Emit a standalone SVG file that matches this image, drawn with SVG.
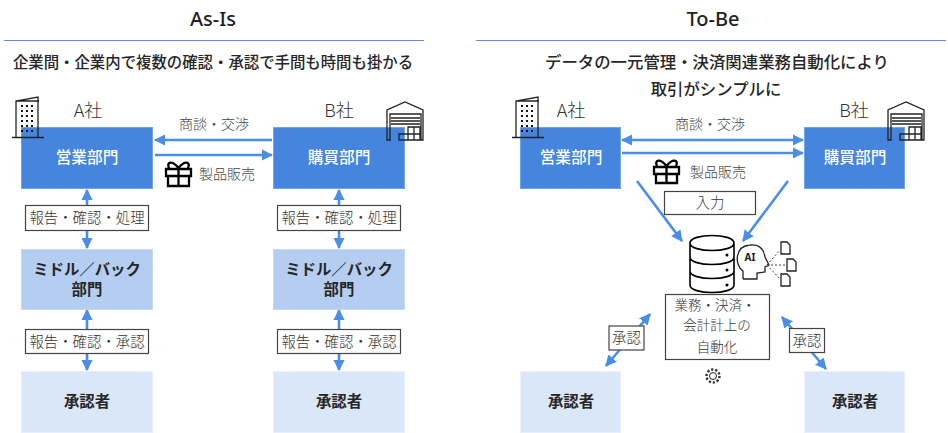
<svg xmlns="http://www.w3.org/2000/svg" width="948" height="433" viewBox="0 0 948 433">
<style>
text{font-family:"Noto Sans CJK JP","Noto Sans",sans-serif;text-anchor:middle}
.h{font-family:"Noto Sans","Noto Sans CJK JP",sans-serif;font-size:20px;font-weight:500;fill:#222}
.t{font-size:15.4px;font-weight:500;fill:#262626}
.t2{font-size:16.4px;font-weight:500;fill:#262626}
.co{font-size:18px;font-weight:300;fill:#333}
.l{font-size:14px;font-weight:300;fill:#444}
.w{font-size:15.700px;font-weight:500;fill:#fff}
.d{font-size:15.400px;font-weight:700;fill:#262626}
.s{font-size:14.400px;font-weight:300;fill:#333}
.s2{font-size:13.500px;font-weight:300;fill:#333}
.blue{fill:#4585dd;stroke:#6fa5ec;stroke-width:1}
.mid{fill:#b4cdf0;stroke:#c5d9f4;stroke-width:1}
.lt{fill:#dae7f8;stroke:#e6effb;stroke-width:1}
.box{fill:#fff;stroke:#444;stroke-width:1.2}
.ln{stroke:#4a8ee6;stroke-width:2.6;fill:none}
.ic{fill:none;stroke:#222;stroke-width:1.3}
.ick{fill:none;stroke:#000;stroke-width:2.300}
.rule{stroke:#5b8fd8;stroke-width:1}
</style>
<defs>
<marker id="a" viewBox="0 0 10 10" refX="9" refY="5" markerWidth="4.400" markerHeight="4.400" orient="auto-start-reverse"><path d="M0 0L10 5L0 10z" fill="#4a8ee6"/></marker>
</defs>
<g id="headers">
<text class="h" x="213" y="26">As-Is</text>
<text class="h" x="713" y="26">To-Be</text>
<line class="rule" x1="4" y1="40.500" x2="424" y2="40.500"/>
<line class="rule" x1="476" y1="40.500" x2="946" y2="40.500"/>
<text class="t" x="213" y="68">企業間・企業内で複数の確認・承認で手間も時間も掛かる</text>
<text class="t2" x="717" y="68">データの一元管理・決済関連業務自動化により</text>
<text class="t2" x="716" y="95">取引がシンプルに</text>
</g>
<g id="connectors">
<line class="ln" x1="272" y1="140" x2="155" y2="140" marker-end="url(#a)"/>
<line class="ln" x1="155" y1="155" x2="272" y2="155" marker-end="url(#a)"/>
<line class="ln" x1="87" y1="190" x2="87" y2="248" marker-start="url(#a)" marker-end="url(#a)"/>
<line class="ln" x1="339" y1="190" x2="339" y2="248" marker-start="url(#a)" marker-end="url(#a)"/>
<line class="ln" x1="87" y1="310" x2="87" y2="370" marker-start="url(#a)" marker-end="url(#a)"/>
<line class="ln" x1="339" y1="310" x2="339" y2="370" marker-start="url(#a)" marker-end="url(#a)"/>
<line class="ln" x1="622" y1="140" x2="803" y2="140" marker-start="url(#a)" marker-end="url(#a)"/>
<line class="ln" x1="622" y1="153" x2="803" y2="153" marker-end="url(#a)"/>
<line class="ln" x1="637" y1="181" x2="682" y2="241" marker-end="url(#a)"/>
<line class="ln" x1="788" y1="181" x2="743" y2="241" marker-end="url(#a)"/>
<line class="ln" x1="606" y1="366" x2="650" y2="314" marker-start="url(#a)" marker-end="url(#a)"/>
<line class="ln" x1="826" y1="369" x2="782" y2="317" marker-start="url(#a)" marker-end="url(#a)"/>
</g>
<g id="as-is-a-label"><text class="co" x="88" y="117">A社</text></g>
<g id="as-is-b-label"><text class="co" x="339" y="117">B社</text></g>
<g id="as-is-sales"><rect class="blue" x="21.500" y="127.500" width="131" height="61"/><text class="w" x="87" y="163">営業部門</text></g>
<g id="as-is-buy"><rect class="blue" x="273.500" y="127.500" width="131" height="61"/><text class="w" x="339" y="163">購買部門</text></g>
<g id="as-is-mid-a"><rect class="mid" x="21.500" y="249.500" width="131" height="60"/><text class="d" x="87" y="275">ミドル／バック</text><text class="d" x="87" y="295">部門</text></g>
<g id="as-is-mid-b"><rect class="mid" x="273.500" y="249.500" width="131" height="60"/><text class="d" x="339" y="275">ミドル／バック</text><text class="d" x="339" y="295">部門</text></g>
<g id="as-is-app-a"><rect class="lt" x="21.500" y="371.500" width="131" height="61"/><text class="d" x="87" y="407">承認者</text></g>
<g id="as-is-app-b"><rect class="lt" x="273.500" y="371.500" width="131" height="61"/><text class="d" x="339" y="407">承認者</text></g>
<g id="as-is-labels">
<rect class="box" x="25.500" y="205.500" width="123" height="25"/><text class="s" x="87" y="223">報告・確認・処理</text>
<rect class="box" x="277.500" y="205.500" width="123" height="25"/><text class="s" x="339" y="223">報告・確認・処理</text>
<rect class="box" x="25.500" y="329.500" width="123" height="24"/><text class="s" x="87" y="347">報告・確認・承認</text>
<rect class="box" x="277.500" y="329.500" width="123" height="24"/><text class="s" x="339" y="347">報告・確認・承認</text>
<text class="l" x="214" y="129">商談・交渉</text>
<text class="l" x="227" y="179">製品販売</text>
</g>
<g id="to-be-a-label"><text class="co" x="571" y="117">A社</text></g>
<g id="to-be-b-label"><text class="co" x="854" y="117">B社</text></g>
<g id="to-be-sales"><rect class="blue" x="520.500" y="127.500" width="100" height="61"/><text class="w" x="571" y="163">営業部門</text></g>
<g id="to-be-buy"><rect class="blue" x="804.500" y="127.500" width="100" height="61"/><text class="w" x="855" y="163">購買部門</text></g>
<g id="to-be-input"><rect class="box" x="664.500" y="191.500" width="91" height="23"/><text class="s" x="710" y="208">入力</text></g>
<g id="to-be-auto"><rect class="box" x="665.500" y="294.500" width="104" height="65"/><text class="s2" x="715" y="309.500">業務・決済・</text><text class="s2" x="717" y="329.500">会計計上の</text><text class="s2" x="717" y="352">自動化</text></g>
<g id="to-be-app-a"><rect class="lt" x="520.500" y="371.500" width="100" height="61"/><text class="d" x="571" y="407">承認者</text></g>
<g id="to-be-app-b"><rect class="lt" x="804.500" y="371.500" width="100" height="61"/><text class="d" x="855" y="407">承認者</text></g>
<g id="to-be-labels">
<text class="l" x="710" y="129">商談・交渉</text>
<text class="l" x="718" y="177">製品販売</text>
<rect class="box" x="609" y="326" width="35" height="24"/><text class="s" x="626.500" y="343">承認</text>
<rect class="box" x="789.500" y="328.500" width="35" height="24"/><text class="s" x="807" y="345.500">承認</text>
</g>
<g id="icon-building-a"><path class="ic" d="M12 137.500H44M16 137V101L38 97V137M16 101H39"/><path d="M21 105h2v2h-2zM26 105h2v2h-2zM31 105h2v2h-2zM21 110h2v2h-2zM26 110h2v2h-2zM31 110h2v2h-2zM21 115h2v2h-2zM26 115h2v2h-2zM31 115h2v2h-2zM21 120h2v2h-2zM26 120h2v2h-2zM31 120h2v2h-2zM21 125h2v2h-2zM26 125h2v2h-2zM31 125h2v2h-2zM21 130h2v2h-2zM26 130h2v2h-2zM31 130h2v2h-2z" fill="#111"/></g>
<g id="icon-building-b"><path class="ic" d="M512 137.500H544M516 137V101L538 97V137M516 101H539"/><path d="M521 105h2v2h-2zM526 105h2v2h-2zM531 105h2v2h-2zM521 110h2v2h-2zM526 110h2v2h-2zM531 110h2v2h-2zM521 115h2v2h-2zM526 115h2v2h-2zM531 115h2v2h-2zM521 120h2v2h-2zM526 120h2v2h-2zM531 120h2v2h-2zM521 125h2v2h-2zM526 125h2v2h-2zM531 125h2v2h-2zM521 130h2v2h-2zM526 130h2v2h-2zM531 130h2v2h-2z" fill="#111"/></g>
<g id="icon-warehouse-a"><path class="ic" d="M387 140V110L405 102L423 110V140H421V114H390V140ZM391 118H420M391 121H420M391 124H420M399 134H408V140H399ZM408 127H420V140H408ZM414 127V140M408 134H420"/></g>
<g id="icon-warehouse-b"><path class="ic" d="M888 140V110L906 102L924 110V140H922V114H891V140ZM892 118H921M892 121H921M892 124H921M900 134H909V140H900ZM909 127H921V140H909ZM915 127V140M909 134H921"/></g>
<g id="icon-gift-a"><path class="ick" d="M166 169H191V176H166ZM168 176V186H189V176M178.500 169V186M178.500 168C172 160 166 162 169 168M178.500 168C185 160 191 162 188 168"/></g>
<g id="icon-gift-b"><path class="ick" d="M654 167H679V174H654ZM656 174V183H677V174M666.500 167V183M666.500 166C660 158 654 160 657 166M666.500 166C673 158 679 160 676 166"/></g>
<g id="icon-db"><path class="ick" style="stroke-width:1.600" d="M690 243C690 233 734 233 734 243C734 253 690 253 690 243ZM690 243V285C690 295 734 295 734 285V243M690 257C690 267 734 267 734 257M690 271C690 281 734 281 734 271"/><circle cx="727" cy="255" r="1.500"/><circle cx="727" cy="270" r="1.500"/><circle cx="727" cy="285" r="1.500"/></g>
<g id="icon-ai"><path class="ic" d="M743 279V271C734 265 735 246 750 245C760 244 764 250 765 257L769 265L765 267V272L757 273V279H743" fill="#fff"/><text x="750" y="261" style="font-family:'Noto Sans',sans-serif;font-size:10px;font-weight:700;fill:#222">AI</text>
<path d="M767 265L780 250M767 265H786M767 265L780 279" fill="none" stroke="#444" stroke-dasharray="2 2"/>
<path class="ic" d="M781 242H787L790 245V254H781ZM787 259H793L796 262V271H787ZM781 274H787L790 277V286H781Z" fill="#fff"/></g>
<g id="icon-gear"><circle cx="713" cy="376" r="3.500" class="ic" style="stroke-width:1"/><circle cx="713" cy="376" r="6.500" fill="none" stroke="#333" stroke-width="2.400" stroke-dasharray="2.200 1.800"/></g>
</svg>
